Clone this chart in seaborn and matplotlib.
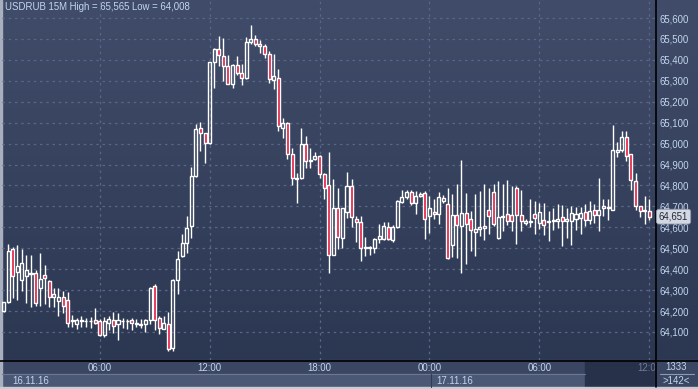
import numpy as np
import pandas as pd
import matplotlib
matplotlib.use("Agg")
import matplotlib.pyplot as plt
import matplotlib.transforms as mtransforms
from matplotlib.patches import Rectangle
from matplotlib.colors import LinearSegmentedColormap
import seaborn as sns

# ===== DATA (USDRUB 15M, 16.11.16 00:45 -> 17.11.16 12:00) =====
symbol = "USDRUB"
timeframe = "15M"
start_time = "2016-11-16 00:45"

opens = [64198, 64241, 64495, 64385, 64346, 64365, 64378, 64380, 64310, 64370,
         64345, 64265, 64250, 64265, 64255, 64150, 64138, 64150, 64150, 64150,
         64155, 64150, 64085, 64145, 64155, 64140, 64150, 64150, 64155, 64140,
         64135, 64138, 64155, 64320, 64165, 64115, 64140, 64025, 64350, 64465,
         64525, 64605, 64845, 65075, 65050, 65005, 65390, 65450, 65420, 65370,
         65285, 65375, 65337, 65313, 65485, 65500, 65475, 65465, 65430, 65305,
         65315, 65075, 65100, 64950, 64832, 64835, 65000, 64918, 64925, 64940,
         64855, 64800, 64466, 64690, 64548, 64672, 64796, 64638, 64624, 64500,
         64505, 64500, 64543, 64543, 64600, 64538, 64600, 64720, 64743, 64767,
         64715, 64748, 64762, 64652, 64671, 64662, 64728, 64710, 64514, 64657,
         64605, 64667, 64638, 64576, 64590, 64605, 64681, 64767, 64548, 64648,
         64662, 64657, 64790, 64657, 64619, 64624, 64662, 64619, 64637, 64627,
         64629, 64632, 64651, 64632, 64629, 64642, 64645, 64672, 64637, 64683,
         64657, 64690, 64697, 64685, 64962, 64967, 65030, 64948, 64823, 64704,
         64680, 64677]
highs = [64245, 64519, 64505, 64514, 64495, 64466, 64466, 64395, 64475, 64420,
         64350, 64310, 64310, 64295, 64290, 64180, 64165, 64175, 64165, 64170,
         64215, 64160, 64170, 64175, 64195, 64190, 64165, 64160, 64165, 64160,
         64160, 64160, 64313, 64328, 64175, 64175, 64195, 64352, 64485, 64570,
         64655, 64888, 65092, 65102, 65052, 65392, 65458, 65514, 65505, 65425,
         65378, 65420, 65380, 65510, 65565, 65520, 65495, 65475, 65440, 65430,
         65355, 65120, 65102, 64980, 64860, 65075, 65035, 64980, 64960, 64945,
         64860, 64960, 64830, 64790, 64690, 64863, 64830, 64652, 64652, 64552,
         64510, 64548, 64614, 64624, 64624, 64610, 64730, 64777, 64777, 64777,
         64772, 64767, 64772, 64748, 64733, 64769, 64752, 64787, 64757, 64805,
         64920, 64762, 64676, 64757, 64772, 64805, 64790, 64805, 64820, 64805,
         64825, 64795, 64795, 64777, 64640, 64733, 64724, 64714, 64716, 64677,
         64692, 64709, 64705, 64692, 64700, 64695, 64695, 64710, 64724, 64710,
         64836, 64737, 64737, 65088, 65007, 65058, 65058, 64950, 64860, 64704,
         64748, 64733]
lows = [64195, 64238, 64260, 64255, 64295, 64236, 64218, 64225, 64225, 64235,
        64220, 64220, 64175, 64190, 64125, 64125, 64115, 64125, 64125, 64120,
        64140, 64080, 64078, 64110, 64095, 64060, 64118, 64115, 64110, 64122,
        64120, 64100, 64140, 64110, 64090, 64112, 64008, 64010, 64280, 64460,
        64475, 64548, 64840, 64965, 64905, 65000, 65267, 65370, 65300, 65285,
        65265, 65330, 65280, 65310, 65475, 65465, 65435, 65410, 65290, 65260,
        65060, 65025, 64925, 64800, 64715, 64830, 64885, 64885, 64920, 64835,
        64735, 64380, 64466, 64495, 64500, 64643, 64600, 64528, 64437, 64462,
        64470, 64476, 64524, 64538, 64538, 64530, 64595, 64715, 64735, 64705,
        64662, 64745, 64543, 64571, 64640, 64615, 64715, 64447, 64457, 64452,
        64380, 64423, 64485, 64462, 64557, 64538, 64566, 64605, 64545, 64580,
        64610, 64580, 64520, 64580, 64610, 64600, 64566, 64590, 64564, 64536,
        64589, 64597, 64509, 64549, 64514, 64585, 64566, 64605, 64614, 64620,
        64580, 64652, 64637, 64685, 64935, 64960, 64916, 64777, 64685, 64650,
        64616, 64637]
closes = [64241, 64485, 64365, 64413, 64428, 64394, 64384, 64240, 64355, 64360,
          64265, 64280, 64265, 64222, 64145, 64155, 64155, 64155, 64153, 64153,
          64145, 64085, 64152, 64160, 64130, 64155, 64152, 64152, 64145, 64142,
          64137, 64155, 64310, 64155, 64118, 64142, 64020, 64350, 64450, 64525,
          64598, 64845, 65068, 65050, 65005, 65390, 65450, 65421, 65370, 65287,
          65375, 65337, 65313, 65485, 65500, 65475, 65465, 65430, 65310, 65322,
          65085, 65100, 64950, 64835, 64836, 65000, 64915, 64922, 64940, 64855,
          64790, 64470, 64690, 64552, 64690, 64796, 64648, 64624, 64500, 64505,
          64500, 64543, 64557, 64605, 64543, 64600, 64724, 64743, 64767, 64715,
          64748, 64757, 64638, 64690, 64662, 64743, 64738, 64452, 64657, 64610,
          64667, 64614, 64586, 64590, 64600, 64595, 64652, 64614, 64648, 64652,
          64629, 64629, 64657, 64629, 64629, 64629, 64643, 64671, 64613, 64630,
          64636, 64642, 64632, 64642, 64667, 64664, 64667, 64634, 64680, 64657,
          64683, 64700, 64690, 64967, 64967, 65030, 64943, 64828, 64702, 64677,
          64683, 64651]

price_ticks = list(range(64100, 65700, 100))
date_labels = ["16.11.16", "17.11.16"]
counter_top = "1333"
counter_bottom = ">142<"

df = pd.DataFrame({"open": opens, "high": highs, "low": lows, "close": closes})
df["time"] = pd.date_range(start_time, periods=len(df), freq="15min")
df["bull"] = df["close"] >= df["open"]
df["body_lo"] = df[["open", "close"]].min(axis=1)
df["body_hi"] = df[["open", "close"]].max(axis=1)
df["x"] = np.arange(len(df))

# ===== STYLE =====
sns.set_theme(style="dark")
plt.rcParams["font.family"] = ["Liberation Sans", "DejaVu Sans"]
TXT = "#c3d6ee"
RED = "#e0163c"
GRID = "#5a6686"
FS = 6.9

W, H = 698, 389
fig = plt.figure(figsize=(W / 100, H / 100), dpi=100)

# ===== BACKGROUND / FRAME (pixel coords) =====
bg = fig.add_axes([0, 0, 1, 1])
bg.set_xlim(0, W)
bg.set_ylim(H, 0)
bg.axis("off")
grad = np.linspace(0, 1, 256).reshape(-1, 1)
cmap = LinearSegmentedColormap.from_list("bg", ["#404c69", "#2c3852"])
bg.imshow(grad, cmap=cmap, extent=[0, W, 360, 0], aspect="auto", zorder=0)
bg.add_patch(Rectangle((0, 360), W, 14, color="#3a4662", zorder=1))
bg.add_patch(Rectangle((0, 374), W, 13, color="#4b5875", zorder=1))
bg.add_patch(Rectangle((585, 361), 70, 26, color="#27314a", zorder=2))
bg.add_patch(Rectangle((655, 360), W - 655, 27, color="#3a4662", zorder=2))
bg.add_patch(Rectangle((0, 0), 2, H, color="#a8afbf", zorder=3))
bg.add_patch(Rectangle((0, 387), W, 2, color="#c8ccd5", zorder=3))
bg.plot([0, W], [360.5, 360.5], color="black", lw=1.2, zorder=4)
bg.plot([655.5, 655.5], [0, 387], color="black", lw=1.2, zorder=4)
bg.plot([2, 585], [374, 374], color="#6b7795", lw=0.8, zorder=3)
bg.plot([430.5, 430.5], [374, 387], color="#2f3a55", lw=0.8, zorder=3)
bg.plot([660, 694], [373.5, 373.5], color="#8e9ab3", lw=0.8, zorder=3)
bg.text(676, 367.5, counter_top, color=TXT, fontsize=FS, ha="center", va="center", zorder=5)
bg.text(676, 380.5, counter_bottom, color=TXT, fontsize=FS, ha="center", va="center", zorder=5)
bg.text(12, 381, date_labels[0], color=TXT, fontsize=FS, ha="left", va="center", zorder=5)
bg.text(436, 381, date_labels[1], color=TXT, fontsize=FS, ha="left", va="center", zorder=5)

# ===== MAIN CHART =====
ax = fig.add_axes([2 / W, 29 / H, 653 / W, 360 / H])
ax.patch.set_alpha(0)
for s in ax.spines.values():
    s.set_visible(False)

# wicks outside the body only (bull bodies are hollow)
ax.vlines(df["x"], df["body_hi"], df["high"], color="white", lw=1, zorder=3)
ax.vlines(df["x"], df["low"], df["body_lo"], color="white", lw=1, zorder=3)
heights = (df["body_hi"] - df["body_lo"]).clip(lower=2)
ax.bar(df["x"], heights, bottom=df["body_lo"], width=0.66,
       color=np.where(df["bull"], "none", RED), edgecolor="white",
       linewidth=1, zorder=4)

ax.set_xlim(-0.33, 142.25)
ax.set_ylim(63966, 65686)

six_h = df.index[(df["time"].dt.minute == 0) & (df["time"].dt.hour % 6 == 0)]
labels = list(df.loc[six_h, "time"].dt.strftime("%H:%M"))
ax.set_xticks(df.loc[six_h, "x"])
ax.set_xticklabels(labels[:-1] + [""])
ax.set_yticks(price_ticks)
ax.set_yticklabels([f"{v:,}" for v in price_ticks])
ax.yaxis.tick_right()
ax.tick_params(axis="y", length=0, pad=3, labelsize=FS, labelcolor=TXT)
ax.tick_params(axis="x", length=0, pad=2.5, labelsize=FS, labelcolor=TXT)
ax.grid(True, color=GRID, linestyle=(0, (2, 3)), linewidth=0.9)

# last 6h label sits in the dark "future" panel and is cut at the price scale
xt = mtransforms.blended_transform_factory(ax.transData, ax.transAxes)
last_lab = ax.text(df.loc[six_h[-1], "x"], -0.022, labels[-1], transform=xt,
                   color="#6f7b96", fontsize=FS, ha="center", va="center", clip_on=True)
last_lab.set_clip_box(mtransforms.Bbox.from_extents(0, 0, 655, H))

# title
ax.text(0.004, 0.994, f"{symbol} {timeframe} High = {max(highs):,} Low = {min(lows):,}",
        transform=ax.transAxes, color=TXT, fontsize=FS, ha="left", va="top")

# last price tag on the right axis
trans = mtransforms.blended_transform_factory(ax.transAxes, ax.transData)
ax.text(1.006, closes[-1], f"{closes[-1]:,}", transform=trans, color="#1e2638",
        fontsize=FS, ha="left", va="center", clip_on=False, zorder=6,
        bbox=dict(boxstyle="round,pad=0.25", fc="#d3d8e2", ec="#8e98ad", lw=0.6))

fig.savefig("out.png", dpi=100)
